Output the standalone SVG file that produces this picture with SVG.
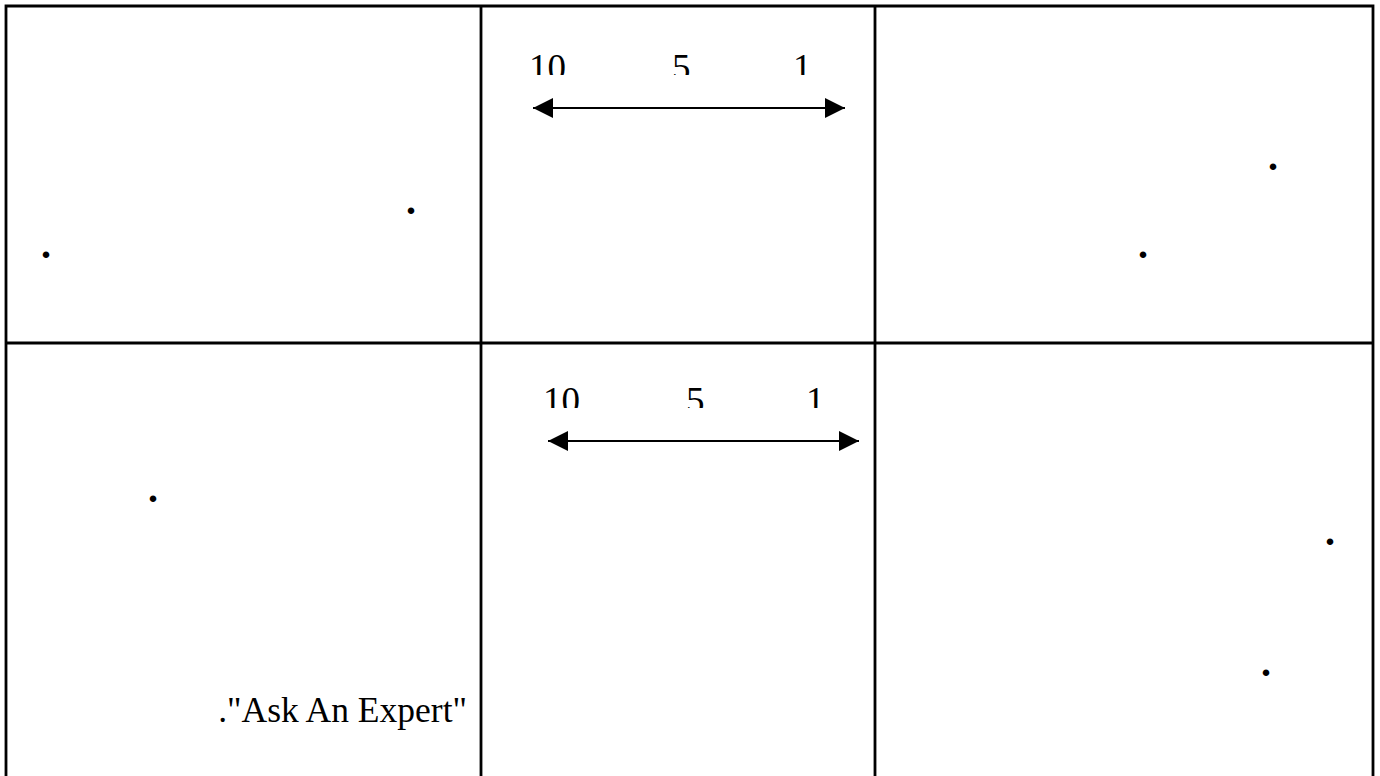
<svg xmlns="http://www.w3.org/2000/svg" width="1380" height="776" viewBox="0 0 1380 776">
  <style>
    .grid { stroke: #000; stroke-width: 2.8; fill: none; }
    .txt { font-family: 'Liberation Serif', 'DejaVu Serif', serif; fill: #000; }
    .num { font-size: 37px; }
    .dot { font-size: 40px; font-weight: bold; }
    .label { font-size: 35.5px; }
    .arrow { stroke: #000; stroke-width: 1.8; fill: none; }
  </style>
  <defs>
    <marker id="ah" markerUnits="userSpaceOnUse" markerWidth="20" markerHeight="20" refX="20" refY="10" orient="auto-start-reverse" viewBox="0 0 20 20">
      <path d="M0,0 L20,10 L0,20 Z" fill="#000"/>
    </marker>
    <clipPath id="clipTop"><rect x="482" y="7" width="392" height="68"/></clipPath>
    <clipPath id="clipBot"><rect x="482" y="344" width="392" height="64"/></clipPath>
  </defs>
  <rect width="1380" height="776" fill="#fff"/>
  <g id="table">
    <path class="grid" d="M6,790 V6 H1373 V790"/>
    <line class="grid" x1="6" y1="343" x2="1373" y2="343"/>
    <line class="grid" x1="481" y1="6" x2="481" y2="790"/>
    <line class="grid" x1="875" y1="6" x2="875" y2="790"/>
  </g>
  <g id="cell-top-left">
    <text class="txt dot" x="406" y="214">.</text>
    <text class="txt dot" x="41" y="258">.</text>
  </g>
  <g id="cell-top-middle" clip-path="url(#clipTop)">
    <text class="txt num" x="529" y="80">10</text>
    <text class="txt num" x="672" y="80">5</text>
    <text class="txt num" x="793" y="80">1</text>
  </g>
  <g id="cell-top-right">
    <text class="txt dot" x="1268" y="170">.</text>
    <text class="txt dot" x="1138" y="258">.</text>
  </g>
  <g id="cell-bottom-left">
    <text class="txt dot" x="148" y="502">.</text>
    <text class="txt label" x="467" y="722" text-anchor="end">."Ask An Expert"</text>
  </g>
  <g id="cell-bottom-middle" clip-path="url(#clipBot)">
    <text class="txt num" x="543" y="413">10</text>
    <text class="txt num" x="686" y="413">5</text>
    <text class="txt num" x="806" y="413">1</text>
  </g>
  <g id="cell-bottom-right">
    <text class="txt dot" x="1325" y="545">.</text>
    <text class="txt dot" x="1261" y="676">.</text>
  </g>
  <g id="connectors">
    <line class="arrow" x1="533" y1="108" x2="845" y2="108" marker-start="url(#ah)" marker-end="url(#ah)"/>
    <line class="arrow" x1="548" y1="441" x2="859" y2="441" marker-start="url(#ah)" marker-end="url(#ah)"/>
  </g>
</svg>
